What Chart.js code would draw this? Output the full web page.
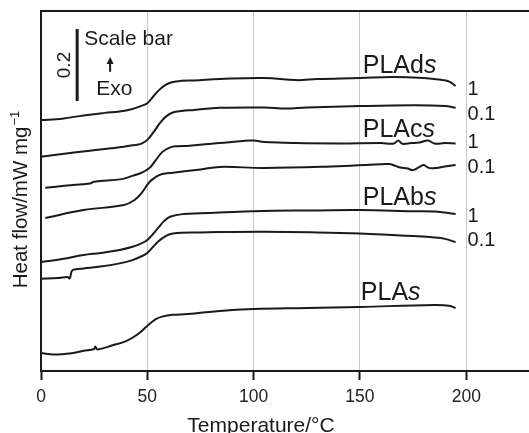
<!DOCTYPE html>
<html>
<head>
<meta charset="utf-8">
<script src="https://cdn.jsdelivr.net/npm/chart.js@4.4.0/dist/chart.umd.min.js"></script>
<style>
  html, body { margin: 0; padding: 0; background: #fff; }
</style>
</head>
<body>
<canvas id="chart" width="529" height="433"></canvas>
<script>
// PLAds, 1 and 0.1
const tempA = [0, 10, 20, 30, 37, 43, 47, 50, 53, 56, 59, 62, 66, 72, 84, 105, 120, 130, 150, 165, 180, 189, 192, 195];
const heatA = [0.697, 0.701, 0.710, 0.717, 0.721, 0.728, 0.736, 0.744, 0.764, 0.783, 0.796, 0.803, 0.806, 0.807, 0.811, 0.814, 0.808, 0.811, 0.814, 0.817, 0.814, 0.808, 0.804, 0.792];
const tempB = [0, 10, 23, 39, 43, 47, 50, 53, 56, 59, 62, 66, 72, 84, 105, 115, 125, 150, 175, 190, 195];
const heatB = [0.595, 0.603, 0.612, 0.623, 0.627, 0.631, 0.642, 0.664, 0.689, 0.708, 0.718, 0.722, 0.725, 0.731, 0.732, 0.729, 0.732, 0.736, 0.738, 0.736, 0.731];
// PLAcs, 1 and 0.1
const tempC = [2, 12, 23, 25, 38, 43, 47, 51, 54, 57, 60, 63, 70, 84, 95, 100, 105, 120, 140, 160, 166, 168, 170, 174, 178, 182, 185, 190, 195];
const heatC = [0.509, 0.515, 0.521, 0.526, 0.533, 0.542, 0.550, 0.564, 0.586, 0.608, 0.619, 0.624, 0.626, 0.633, 0.639, 0.640, 0.636, 0.633, 0.632, 0.633, 0.632, 0.640, 0.631, 0.633, 0.635, 0.640, 0.632, 0.633, 0.632];
const tempD = [2, 20, 39, 44, 47, 51, 54, 57, 62, 75, 84, 105, 140, 160, 164, 167, 169, 172, 175, 178, 180, 182, 184, 186, 190, 195];
const heatD = [0.425, 0.447, 0.461, 0.475, 0.492, 0.525, 0.539, 0.547, 0.551, 0.560, 0.567, 0.564, 0.569, 0.574, 0.575, 0.569, 0.565, 0.563, 0.558, 0.567, 0.572, 0.565, 0.563, 0.564, 0.568, 0.572];
// PLAbs, 1 and 0.1
const tempE = [0, 10, 20, 28, 37, 43, 47, 50, 55, 58, 61, 67, 75, 84, 100, 130, 150, 175, 185, 190, 195];
const heatE = [0.303, 0.311, 0.322, 0.328, 0.336, 0.345, 0.354, 0.364, 0.397, 0.417, 0.429, 0.436, 0.438, 0.440, 0.444, 0.446, 0.447, 0.444, 0.443, 0.440, 0.436];
const tempF = [0, 8, 12.5, 13.5, 14.5, 16, 20, 28, 37, 43, 47, 50, 55, 59, 62, 75, 84, 105, 130, 150, 165, 175, 185, 190, 195];
const heatF = [0.256, 0.258, 0.261, 0.257, 0.278, 0.282, 0.285, 0.290, 0.299, 0.308, 0.318, 0.328, 0.359, 0.376, 0.382, 0.385, 0.386, 0.387, 0.385, 0.382, 0.378, 0.375, 0.371, 0.367, 0.358];
// PLAs
const tempG = [0, 6, 15, 20, 25, 25.5, 26.5, 34, 40, 45, 50, 54, 57, 62, 69, 84, 100, 125, 150, 185, 192, 195];
const heatG = [0.050, 0.046, 0.050, 0.056, 0.061, 0.068, 0.060, 0.072, 0.083, 0.100, 0.125, 0.144, 0.151, 0.156, 0.158, 0.167, 0.172, 0.175, 0.178, 0.183, 0.181, 0.175];

const scaleBarTemp = [17, 17];
const scaleBarHeat = [0.75, 0.95];

const sampleNames = ['PLAd', 'PLAc', 'PLAb', 'PLA'];
const rateLabels = ['1', '0.1', '1', '0.1', '1', '0.1'];
const xTicks = [0, 50, 100, 150, 200];

const FONT = "'Liberation Sans', Arial, Helvetica, sans-serif";
const INK = '#1a1a1a';
Chart.defaults.font.family = FONT;

function pts(t, v) {
  return t.map((x, i) => ({ x: x, y: v[i] }));
}

const curves = [[tempA, heatA], [tempB, heatB], [tempC, heatC], [tempD, heatD], [tempE, heatE], [tempF, heatF], [tempG, heatG]];
const datasets = curves.map(c => ({
  data: pts(c[0], c[1]),
  borderColor: INK,
  borderWidth: 2,
  pointRadius: 0,
  tension: 0.4,
  fill: false
}));
datasets.push({
  data: pts(scaleBarTemp, scaleBarHeat),
  borderColor: INK,
  borderWidth: 3,
  pointRadius: 0,
  fill: false
});

// text, arrow, top frame line and axis titles
const annotations = {
  id: 'annotations',
  afterDraw(chart) {
    const { ctx, chartArea, scales } = chart;
    const x = scales.x, y = scales.y;
    ctx.save();
    ctx.strokeStyle = INK;
    ctx.lineWidth = 2;
    ctx.beginPath();
    ctx.moveTo(chartArea.left, chartArea.top);
    ctx.lineTo(chartArea.right, chartArea.top);
    ctx.stroke();

    ctx.fillStyle = INK;
    ctx.textBaseline = 'alphabetic';
    ctx.textAlign = 'left';

    // sample names with italic s
    const namePos = [[151.3, 0.828], [151.3, 0.650], [151.3, 0.461], [150.4, 0.197]];
    sampleNames.forEach((name, i) => {
      const px = x.getPixelForValue(namePos[i][0]);
      const py = y.getPixelForValue(namePos[i][1]);
      ctx.font = '25px ' + FONT;
      ctx.fillText(name, px, py);
      const w = ctx.measureText(name).width;
      ctx.font = 'italic 25px ' + FONT;
      ctx.fillText('s', px + w, py);
    });

    // heating rates
    const rateY = [0.767, 0.697, 0.619, 0.550, 0.414, 0.347];
    ctx.font = '20px ' + FONT;
    rateLabels.forEach((r, i) => {
      ctx.fillText(r, x.getPixelForValue(200.6), y.getPixelForValue(rateY[i]));
    });

    // scale bar texts
    ctx.font = '21px ' + FONT;
    ctx.fillText('Scale bar', x.getPixelForValue(20.3), y.getPixelForValue(0.906));
    ctx.fillText('Exo', x.getPixelForValue(26), y.getPixelForValue(0.767));

    const ax = x.getPixelForValue(32.5);
    const aTop = y.getPixelForValue(0.872);
    const aBot = y.getPixelForValue(0.831);
    ctx.lineWidth = 2;
    ctx.beginPath();
    ctx.moveTo(ax, aBot);
    ctx.lineTo(ax, aTop + 5);
    ctx.stroke();
    ctx.beginPath();
    ctx.moveTo(ax, aTop);
    ctx.lineTo(ax - 3.5, aTop + 7);
    ctx.lineTo(ax + 3.5, aTop + 7);
    ctx.closePath();
    ctx.fill();

    ctx.save();
    ctx.translate(x.getPixelForValue(13.8), y.getPixelForValue(0.85));
    ctx.rotate(-Math.PI / 2);
    ctx.font = '19px ' + FONT;
    ctx.textAlign = 'center';
    ctx.fillText('0.2', 0, 0);
    ctx.restore();

    // axis titles
    ctx.font = '21px ' + FONT;
    ctx.textAlign = 'center';
    ctx.fillText('Temperature/°C', 261, 432);

    ctx.save();
    ctx.translate(20, 200);
    ctx.rotate(-Math.PI / 2);
    ctx.font = '20.5px ' + FONT;
    const main = 'Heat flow/mW mg';
    const mw = ctx.measureText(main).width;
    ctx.font = '13px ' + FONT;
    const sup = '\u22121';
    const sw = ctx.measureText(sup).width;
    const start = -(mw + sw) / 2;
    ctx.textAlign = 'left';
    ctx.font = '20.5px ' + FONT;
    ctx.fillText(main, start, 6.7);
    ctx.font = '13px ' + FONT;
    ctx.fillText(sup, start + mw + 1, -1.5);
    ctx.restore();

    ctx.restore();
  }
};

new Chart(document.getElementById('chart'), {
  type: 'line',
  data: { datasets: datasets },
  options: {
    responsive: false,
    animation: false,
    devicePixelRatio: 1,
    layout: { padding: { top: 11, left: 0, right: 0, bottom: 0 } },
    plugins: { legend: { display: false }, tooltip: { enabled: false } },
    scales: {
      x: {
        type: 'linear',
        min: 0,
        max: 229.5,
        afterFit: s => { s.height = 62; },
        afterBuildTicks: s => { s.ticks = xTicks.map(v => ({ value: v })); },
        ticks: { color: '#222', font: { size: 17.5 }, padding: 7, maxRotation: 0 },
        grid: { color: '#c8c8c8', lineWidth: 1, tickColor: INK, tickWidth: 2, tickLength: 9 },
        border: { color: INK, width: 2 }
      },
      y: {
        type: 'linear',
        min: 0,
        max: 1,
        afterFit: s => { s.width = 41; },
        ticks: { display: false },
        grid: { drawOnChartArea: false, drawTicks: false },
        border: { color: INK, width: 2 }
      }
    }
  },
  plugins: [annotations]
});
</script>
</body>
</html>
